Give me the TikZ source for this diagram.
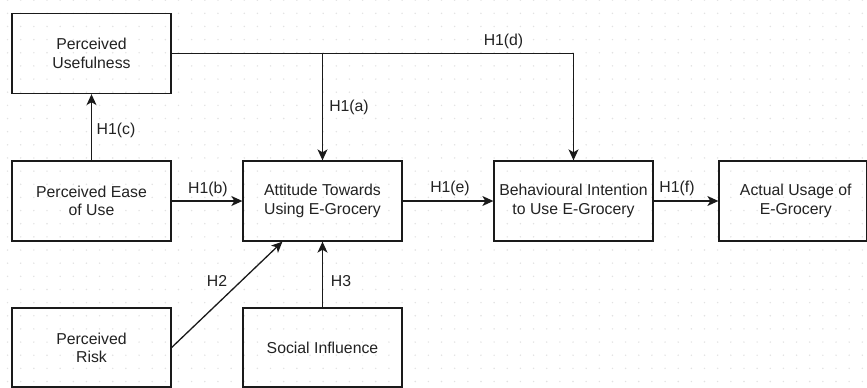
\documentclass[tikz,border=0pt]{standalone}
\usepackage{fontspec}
\setmainfont{Liberation Sans}
\usetikzlibrary{arrows.meta,calc}
\definecolor{txt}{HTML}{222222}
\definecolor{ln}{HTML}{1A1A1A}
\definecolor{griddot}{HTML}{E2E2E2}
\tikzset{
  boxnode/.style={draw=ln, line width=1.3pt, minimum width=159pt, minimum height=80pt,
    inner sep=0pt, align=center, text=txt, font=\fontsize{15.8}{18.3}\selectfont},
  arr/.style={draw=ln, line width=1.3pt, -{Stealth[length=11pt,width=10pt,inset=3pt]}},
  plainln/.style={draw=ln, line width=1.3pt},
  lbl/.style={text=txt, inner sep=0pt, font=\fontsize{15.8}{18.3}\selectfont}
}
\begin{document}
\begin{tikzpicture}[x=1pt,y=-1pt]
\useasboundingbox (0,0) rectangle (867,388);
\fill[white] (0,0) rectangle (867,388);
% dotted grid
\foreach \i in {0,...,65}{
  \foreach \j in {0,...,29}{
    \fill[griddot] ({7.55+13.15*\i},{0.15+13.15*\j}) circle (0.8pt);
  }
}
% boxes
\node[boxnode] (PU)   at (91.5,53.5)  {Perceived\\Usefulness};
\node[boxnode] (PEOU) at (91.5,201)   {Perceived Ease\\of Use};
\node[boxnode] (ATT)  at (322.5,201)  {Attitude Towards\\Using E-Grocery};
\node[boxnode] (BI)   at (573.5,201)  {Behavioural Intention\\to Use E-Grocery};
\node[boxnode, minimum width=147.5pt] (AU) at (792.75,201) {\hspace*{6pt}Actual Usage of\\\hspace*{6pt}E-Grocery};
\node[boxnode, minimum height=79pt] (PR) at (91.5,347.5) {Perceived\\Risk};
\node[boxnode, minimum height=79pt] (SI) at (322.5,347.5) {Social Influence};
% connectors
\coordinate (split) at (PU.east -| ATT.north);
\draw[arr] (PU.east) -| (BI.north);
\draw[arr] (split) -- (ATT.north);
\draw[arr] (PEOU.north) -- (PU.south);
\draw[arr] (PEOU.east) -- (ATT.west);
\draw[arr] (ATT.east) -- (BI.west);
\draw[arr] (BI.east) -- (AU.west);
\coordinate (attsw) at ($(ATT.south west)!0.25!(ATT.south east)$);
\draw[arr] (PR.east) -- (attsw);
\draw[arr] (SI.north) -- (ATT.south);
% labels
\node[lbl] (la) at (349,107) {H1(a)};
\node[lbl] (lb) at (208,189) {H1(b)};
\node[lbl] (lc) at (116,130) {H1(c)};
\node[lbl] (ld) at (503.5,41) {H1(d)};
\node[lbl] (le) at (450,188) {H1(e)};
\node[lbl] (lf) at (677,188) {H1(f)};
\node[lbl] (l2) at (217,281) {H2};
\node[lbl] (l3) at (341,281) {H3};
\end{tikzpicture}
\end{document}
